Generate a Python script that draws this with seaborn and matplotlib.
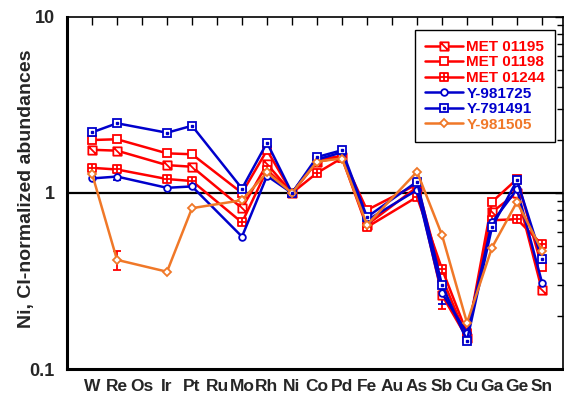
import numpy as np
import pandas as pd
import matplotlib
matplotlib.use("Agg")
import matplotlib.pyplot as plt
import seaborn as sns
from matplotlib.path import Path
from matplotlib.ticker import FixedLocator, FuncFormatter, LogLocator, NullFormatter

elements = ["W", "Re", "Os", "Ir", "Pt", "Ru", "Mo", "Rh", "Ni", "Co",
            "Pd", "Fe", "Au", "As", "Sb", "Cu", "Ga", "Ge", "Sn"]
nan = np.nan
met01195 = [1.76, 1.74, nan, 1.44, 1.41, nan, 0.82, 1.46, 1.0, 1.50,
            1.60, 0.66, nan, 1.08, 0.263, 0.150, 0.78, 1.00, 0.28]
met01198 = [2.00, 2.02, nan, 1.68, 1.66, nan, 1.00, 1.75, 1.0, 1.55,
            1.62, 0.80, nan, 1.12, 0.33, 0.150, 0.89, 1.20, 0.38]
met01244 = [1.39, 1.36, nan, 1.20, 1.17, nan, 0.68, 1.35, 1.0, 1.30,
            1.58, 0.64, nan, 0.95, 0.37, 0.160, 0.70, 0.71, 0.51]
y981725 = [1.21, 1.24, nan, 1.07, 1.09, nan, 0.565, 1.25, 1.0, 1.55,
           1.70, 0.70, nan, 1.04, 0.27, 0.160, 0.68, 1.05, 0.31]
y791491 = [2.21, 2.49, nan, 2.20, 2.41, nan, 1.06, 1.93, 1.0, 1.60,
           1.75, 0.73, nan, 1.16, 0.30, 0.145, 0.64, 1.18, 0.42]
y981505 = [1.29, 0.417, nan, 0.357, 0.82, nan, 0.91, 1.31, 1.0, 1.51,
           1.57, 0.66, nan, 1.32, 0.577, 0.183, 0.49, 0.89, 0.47]

series_names = ["MET 01195", "MET 01198", "MET 01244", "Y-981725", "Y-791491", "Y-981505"]
series_values = [met01195, met01198, met01244, y981725, y791491, y981505]

# error bars: series, element, error size
err_series = ["Y-981725", "Y-981505", "MET 01195", "Y-981725"]
err_elements = ["Re", "Re", "Sb", "Sb"]
err_sizes = [0.06, 0.05, 0.045, 0.035]

RED = "#FF0000"
BLUE = "#0000CC"
ORANGE = "#F07828"
colors = {"MET 01195": RED, "MET 01198": RED, "MET 01244": RED,
          "Y-981725": BLUE, "Y-791491": BLUE, "Y-981505": ORANGE}
err_colors = {"Y-981725": BLUE, "Y-981505": RED, "MET 01195": RED}

sq = [(-1, -1), (1, -1), (1, 1), (-1, 1), (-1, -1)]
sqc = [Path.MOVETO, Path.LINETO, Path.LINETO, Path.LINETO, Path.CLOSEPOLY]
diag_marker = Path(sq + [(-1, 1), (1, -1)], sqc + [Path.MOVETO, Path.LINETO])
plus_marker = Path(sq + [(-1, 0), (1, 0), (0, -1), (0, 1)],
                   sqc + [Path.MOVETO, Path.LINETO, Path.MOVETO, Path.LINETO])
markers = {"MET 01195": (diag_marker, 6.0), "MET 01198": ("s", 6.0),
           "MET 01244": (plus_marker, 6.0), "Y-981725": ("o", 4.8),
           "Y-791491": ("s", 6.0), "Y-981505": ("D", 4.2)}

sns.set_style("white")
plt.rcParams["font.family"] = ["Liberation Sans", "DejaVu Sans"]
plt.rcParams["font.weight"] = "bold"

fig = plt.figure(figsize=(5.64, 3.98), dpi=100)
ax = fig.add_axes([67 / 564, 1 - 369 / 398, (563 - 67) / 564, (369 - 17) / 398])

pos = np.arange(1, len(elements) + 1)
ax.axhline(1.0, color="black", lw=1.6, zorder=1)

handles = {}
for name, vals in zip(series_names, series_values):
    v = np.array(vals, dtype=float)
    m = ~np.isnan(v)
    df = pd.DataFrame({"x": pos[m], "y": v[m]})
    mk, ms = markers[name]
    c = colors[name]
    n_before = len(ax.lines)
    sns.lineplot(data=df, x="x", y="y", ax=ax, color=c, lw=1.8, marker=mk,
                 markersize=ms, markerfacecolor="white", markeredgecolor=c,
                 markeredgewidth=1.3, estimator=None, sort=False, zorder=3)
    line = ax.lines[n_before]
    h = [line]
    if name == "Y-791491":
        dots, = ax.plot(df["x"], df["y"], ls="none", marker="s", markersize=1.8,
                        color=c, zorder=4)
        h.append(dots)
    handles[name] = tuple(h) if len(h) > 1 else h[0]

for s, e, err in zip(err_series, err_elements, err_sizes):
    i = elements.index(e)
    val = series_values[series_names.index(s)][i]
    ax.errorbar([pos[i]], [val], yerr=[err], fmt="none", ecolor=err_colors[s],
                elinewidth=1.3, capsize=3, capthick=1.3, zorder=2)

ax.set_yscale("log")
ax.set_ylim(0.1, 10)
ax.set_xlim(0, 19.84)
ax.set_xticks(pos)
ax.set_xticklabels(elements, fontsize=12.5, fontweight="bold")
ax.yaxis.set_major_locator(FixedLocator([0.1, 1, 10]))
ax.yaxis.set_major_formatter(FuncFormatter(lambda v, p: {0.1: "0.1", 1: "1", 10: "10"}.get(round(v, 3), "")))
ax.yaxis.set_minor_locator(LogLocator(base=10, subs=np.arange(2, 10)))
ax.yaxis.set_minor_formatter(NullFormatter())
for lab in ax.get_yticklabels():
    lab.set_fontweight("bold")
    lab.set_fontsize(13)
ax.tick_params(axis="both", which="both", direction="in", top=True, right=True, color="black")
ax.tick_params(axis="x", which="major", length=6, width=1, pad=7)
ax.tick_params(axis="y", which="major", length=6, width=1, pad=9)
ax.tick_params(axis="y", which="minor", length=4, width=1)
ax.set_xlabel("")
ax.set_ylabel("Ni, CI-normalized abundances", fontsize=14, fontweight="bold")
ax.yaxis.set_label_coords(-0.064, 0.513)
for sp in ax.spines.values():
    sp.set_visible(True)
    sp.set_color("black")
    sp.set_linewidth(1.2)
ax.spines["left"].set_linewidth(2.2)
ax.spines["bottom"].set_linewidth(2.2)

leg = ax.legend([handles[n] for n in series_names], series_names, loc="upper right",
                bbox_to_anchor=(0.984, 0.963), frameon=True, fancybox=False,
                edgecolor="black", framealpha=1, fontsize=11, handlelength=2.5,
                handletextpad=0.2, borderpad=0.65, labelspacing=0.1, borderaxespad=0)
leg.get_frame().set_linewidth(1.0)
for t, n in zip(leg.get_texts(), series_names):
    t.set_color(colors[n])
    t.set_fontweight("bold")

fig.savefig("out.png", dpi=100)
